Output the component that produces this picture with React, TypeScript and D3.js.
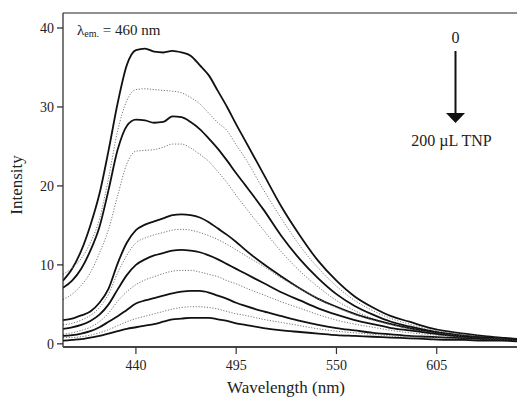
import React from 'react';
import * as d3 from 'd3';

// emission spectra, excitation fixed; TNP added in steps up to 200 µL
const wavelengths = [400, 405, 410, 415, 420, 425, 430, 435, 440, 445, 450, 455, 460, 465, 470, 475, 480, 485, 490, 495, 500,
  510, 520, 530, 540, 550, 560, 570, 580, 590, 600, 610, 620, 630, 640, 650];

const tnp0 = [8.0, 9.5, 11.8, 15.0, 19.0, 24.5, 30.5, 35.3, 37.2, 37.4, 37.0, 36.9, 37.1, 36.9, 36.5, 35.3, 34.0, 32.0, 30.0, 27.8, 25.7,
  21.5, 17.3, 13.7, 10.5, 8.0, 6.0, 4.6, 3.5, 2.8, 2.1, 1.6, 1.3, 1.0, 0.8, 0.6];
const tnp20 = [8.8, 9.6, 10.8, 12.8, 15.8, 21.0, 27.0, 30.8, 32.2, 32.3, 32.2, 32.1, 32.0, 31.8, 31.2, 30.4, 29.2, 28.0, 27.0, 25.2, 23.5,
  19.5, 15.8, 12.4, 9.6, 7.3, 5.5, 4.2, 3.2, 2.5, 1.9, 1.5, 1.2, 0.9, 0.7, 0.6];
const tnp40 = [7.1, 8.0, 9.5, 11.8, 14.8, 19.5, 24.6, 27.6, 28.4, 28.3, 28.0, 28.1, 28.8, 28.7, 28.1, 27.2, 26.0, 24.7, 23.2, 21.6, 20.1,
  17.0, 13.6, 10.7, 8.3, 6.3, 4.8, 3.7, 2.8, 2.2, 1.7, 1.3, 1.0, 0.8, 0.7, 0.5];
const tnp60 = [5.6, 6.3, 7.4, 9.0, 11.5, 14.5, 18.8, 22.8, 24.4, 24.5, 24.6, 24.9, 25.3, 25.3, 24.8, 24.0, 23.1, 21.8, 20.4, 18.8, 17.3,
  14.4, 11.6, 9.2, 7.2, 5.5, 4.2, 3.2, 2.5, 1.9, 1.5, 1.2, 0.9, 0.8, 0.6, 0.5];
const tnp80 = [3.0, 3.2, 3.6, 4.1, 5.2, 7.0, 10.2, 12.8, 14.4, 15.1, 15.5, 15.9, 16.3, 16.4, 16.3, 16.0, 15.4, 14.6, 13.8, 12.9, 11.9,
  10.1, 8.5, 7.0, 5.7, 4.7, 3.8, 3.1, 2.5, 2.0, 1.6, 1.3, 1.0, 0.8, 0.7, 0.5];
const tnp100 = [2.4, 2.6, 3.0, 3.6, 4.6, 6.3, 9.0, 11.2, 12.8, 13.4, 13.8, 14.1, 14.4, 14.5, 14.4, 14.1, 13.7, 13.2, 12.6, 11.9, 11.2,
  9.8, 8.3, 7.0, 5.7, 4.6, 3.7, 3.0, 2.4, 1.9, 1.5, 1.2, 1.0, 0.8, 0.7, 0.6];
const tnp120 = [1.9, 2.1, 2.4, 2.9, 3.7, 5.0, 6.9, 8.7, 10.0, 10.7, 11.2, 11.5, 11.8, 11.9, 11.8, 11.6, 11.2, 10.7, 10.1, 9.5, 8.9,
  7.7, 6.5, 5.5, 4.5, 3.7, 3.0, 2.5, 2.0, 1.7, 1.4, 1.1, 0.9, 0.8, 0.7, 0.6];
const tnp140 = [1.2, 1.4, 1.7, 2.1, 2.8, 3.9, 5.4, 6.6, 7.5, 8.1, 8.5, 8.9, 9.2, 9.3, 9.3, 9.1, 8.8, 8.5, 8.0, 7.6, 7.1,
  6.2, 5.3, 4.5, 3.7, 3.0, 2.5, 2.1, 1.7, 1.4, 1.2, 1.0, 0.8, 0.7, 0.6, 0.5];
const tnp160 = [1.0, 1.1, 1.3, 1.6, 2.1, 2.8, 3.5, 4.3, 5.1, 5.5, 5.8, 6.1, 6.4, 6.6, 6.7, 6.7, 6.5, 6.1, 5.7, 5.2, 4.8,
  4.1, 3.5, 2.9, 2.4, 2.0, 1.7, 1.4, 1.2, 1.0, 0.9, 0.8, 0.7, 0.6, 0.5, 0.5];
const tnp180 = [0.8, 0.8, 0.9, 1.1, 1.4, 1.8, 2.3, 2.8, 3.2, 3.5, 3.8, 4.1, 4.4, 4.6, 4.7, 4.7, 4.6, 4.4, 4.1, 3.8, 3.6,
  3.1, 2.7, 2.3, 1.9, 1.6, 1.4, 1.2, 1.0, 0.9, 0.8, 0.7, 0.6, 0.5, 0.5, 0.4];
const tnp200 = [0.4, 0.5, 0.6, 0.8, 1.0, 1.3, 1.6, 1.9, 2.1, 2.3, 2.5, 2.8, 3.1, 3.2, 3.3, 3.3, 3.3, 3.1, 2.9, 2.6, 2.4,
  2.0, 1.7, 1.5, 1.3, 1.1, 1.0, 0.9, 0.8, 0.7, 0.6, 0.5, 0.5, 0.4, 0.4, 0.3];

const spectra = [tnp0, tnp20, tnp40, tnp60, tnp80, tnp100, tnp120, tnp140, tnp160, tnp180, tnp200];

const xTicks = [440, 495, 550, 605];
const yTicks = [0, 10, 20, 30, 40];

const font = "'Liberation Serif', 'Times New Roman', serif";

export default function App() {
  const width = 517;
  const height = 399;
  const left = 63, top = 13, bottom = 347;

  const x = d3.scaleLinear().domain([400, 650]).range([left, left + 250 * 1.823]);
  const y = d3.scaleLinear().domain([-0.4, 41.9]).range([bottom, top]);

  const line = d3.line<number>()
    .x((d, i) => x(wavelengths[i]))
    .y(d => y(d))
    .curve(d3.curveMonotoneX);

  return (
    <svg width={width} height={height} style={{ position: 'absolute', left: 0, top: 0, background: '#fff' }}
      fontFamily={font}>
      <defs>
        <clipPath id="plot">
          <rect x={left} y={top} width={width - left} height={bottom - top} />
        </clipPath>
      </defs>

      <g clipPath="url(#plot)">
        {spectra.map((s, i) => (
          <path key={i} d={line(s) || ''} fill="none"
            stroke={i % 2 === 0 ? '#111' : '#777'}
            strokeWidth={i % 2 === 0 ? 1.8 : 1}
            strokeDasharray={i % 2 === 0 ? undefined : '1.2 1.6'} />
        ))}
      </g>

      {/* frame */}
      <line x1={left} x2={width} y1={top} y2={top} stroke="#222" strokeWidth={1.2} />
      <line x1={left} x2={left} y1={top} y2={bottom} stroke="#222" strokeWidth={1.2} />
      <line x1={left} x2={width} y1={bottom} y2={bottom} stroke="#444" strokeWidth={2} />

      {yTicks.map(t => (
        <g key={t}>
          <line x1={left - 6} x2={left} y1={y(t)} y2={y(t)} stroke="#222" strokeWidth={1.2} />
          <text x={left - 9} y={y(t)} dy="0.35em" textAnchor="end" fontSize={14} fill="#222">{t}</text>
        </g>
      ))}
      {xTicks.map(t => (
        <g key={t}>
          <line x1={x(t)} x2={x(t)} y1={bottom} y2={bottom + 7} stroke="#333" strokeWidth={1.2} />
          <text x={x(t)} y={370} textAnchor="middle" fontSize={14} fill="#222">{t}</text>
        </g>
      ))}

      <text x={286} y={393} textAnchor="middle" fontSize={17} fill="#222">Wavelength (nm)</text>
      <text transform="translate(22,185) rotate(-90)" textAnchor="middle" fontSize={17} fill="#222">Intensity</text>

      <text x={77} y={35} fontSize={15} fill="#222">
        <tspan>λ</tspan>
        <tspan fontSize={10} dy={2}>em.</tspan>
        <tspan dy={-2}> = 460 nm</tspan>
      </text>

      <text x={455.5} y={43} textAnchor="middle" fontSize={16} fill="#222">0</text>
      <line x1={455.5} x2={455.5} y1={51} y2={114} stroke="#111" strokeWidth={2} />
      <path d="M446,113 L465,113 L455.5,123 Z" fill="#111" />
      <text x={451.5} y={146} textAnchor="middle" fontSize={16} fill="#222">200 µL TNP</text>
    </svg>
  );
}
